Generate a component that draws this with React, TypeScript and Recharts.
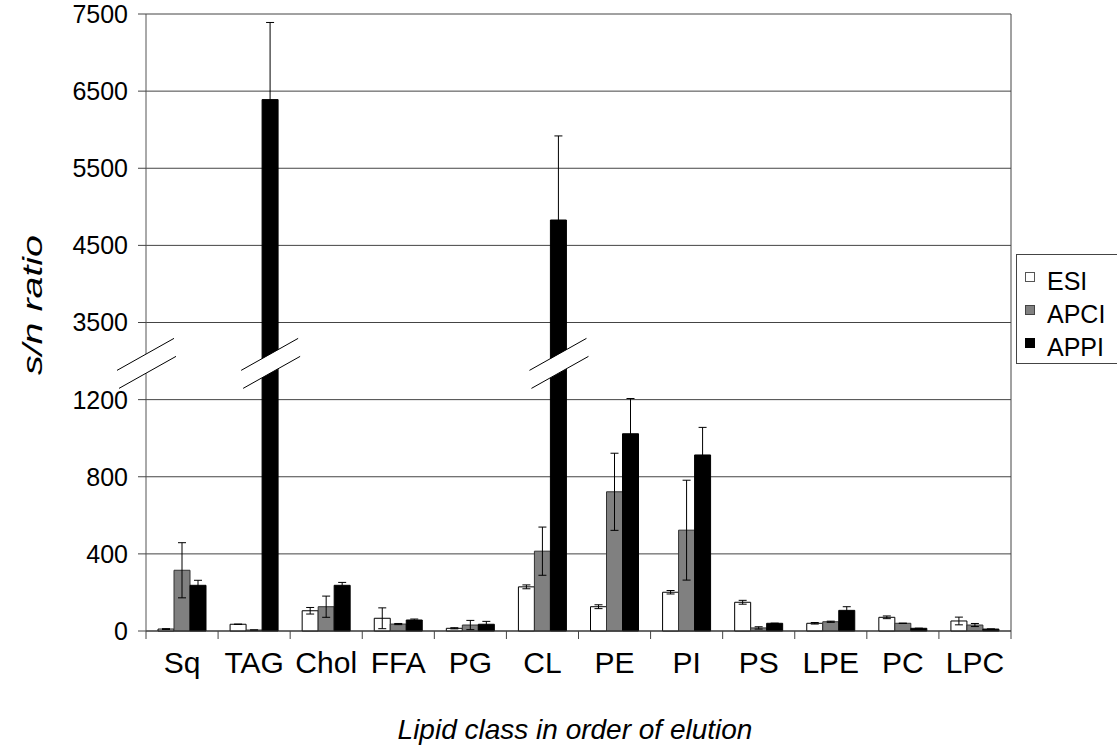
import React from 'react';
import { BarChart, Bar, XAxis, YAxis, CartesianGrid, ErrorBar, ReferenceDot, Label } from 'recharts';

// lipid classes, in order of elution
const categories = ['Sq', 'TAG', 'Chol', 'FFA', 'PG', 'CL', 'PE', 'PI', 'PS', 'LPE', 'PC', 'LPC'];

// s/n ratio per ionisation source, with error (one s.d.)
const esi = [10, 35, 105, 66, 14, 229, 126, 201, 149, 40, 71, 52];
const esiErr = [2, 0, 17, 54, 3, 10, 10, 9, 10, 4, 7, 20];
const apci = [315, 5, 126, 36, 31, 414, 722, 523, 16, 48, 40, 31];
const apciErr = [143, 0, 55, 3, 24, 125, 200, 259, 6, 3, 0, 8];
const appi = [237, 6390, 237, 57, 35, 4829, 1023, 913, 40, 107, 14, 10];
const appiErr = [26, 1000, 15, 5, 15, 1090, 210, 143, 0, 19, 0, 0];

const yTickValues = [0, 400, 800, 1200, 3500, 4500, 5500, 6500, 7500];
const brokenBars = ['TAG', 'CL'];

const FONT = '"Liberation Sans", Arial, sans-serif';
const W = 1117;
const H = 751;
const MARGIN = { top: 14, right: 106, bottom: 60, left: 66 };
const Y_AXIS_W = 80;
const PLOT_LEFT = MARGIN.left + Y_AXIS_W;
const PLOT_RIGHT = W - MARGIN.right;
const PLOT_BOTTOM = 631;
const BAND = (PLOT_RIGHT - PLOT_LEFT) / categories.length;
const BAR = 16;

// broken axis: 0-1200 at 400 per unit, break, 3500-7500 at 1000 per unit
function toAxis(v: number): number {
  if (v <= 1200) return v / 400;
  if (v < 3500) return 3 + (v - 1200) / 2300;
  return 4 + (v - 3500) / 1000;
}

function errRange(v: number, e: number): [number, number] {
  return [toAxis(v) - toAxis(Math.max(v - e, 0)), toAxis(v + e) - toAxis(v)];
}

const rows = categories.map((name, i) => ({
  name,
  esi: toAxis(esi[i]),
  apci: toAxis(apci[i]),
  appi: toAxis(appi[i]),
  esiE: errRange(esi[i], esiErr[i]),
  apciE: errRange(apci[i], apciErr[i]),
  appiE: errRange(appi[i], appiErr[i]),
}));

const BREAK_AT = 3.47;

function BreakMark({ cx, cy }: { cx: number; cy: number }) {
  const a = { x1: cx - 29, y1: cy + 7, x2: cx + 28, y2: cy - 25 };
  const b = { x1: cx - 27, y1: cy + 25, x2: cx + 30, y2: cy - 7 };
  return (
    <g>
      <polygon
        points={`${a.x1},${a.y1} ${a.x2},${a.y2} ${b.x2},${b.y2} ${b.x1},${b.y1}`}
        fill="#fff"
        stroke="none"
      />
      <line {...a} stroke="#000" strokeWidth={1} />
      <line {...b} stroke="#000" strokeWidth={1} />
    </g>
  );
}

function XTick(props: any) {
  const { x, payload, index } = props;
  return (
    <g>
      <line x1={x - BAND / 2} x2={x - BAND / 2} y1={PLOT_BOTTOM} y2={PLOT_BOTTOM + 8} stroke="#444" />
      {index === categories.length - 1 && (
        <line x1={x + BAND / 2} x2={x + BAND / 2} y1={PLOT_BOTTOM} y2={PLOT_BOTTOM + 8} stroke="#444" />
      )}
      <text x={x} y={673} textAnchor="middle" fontSize={30} fontFamily={FONT} fill="#000">
        {payload.value}
      </text>
    </g>
  );
}

const legendItems = [
  { name: 'ESI', fill: '#fff', stroke: '#555' },
  { name: 'APCI', fill: '#808080', stroke: '#444' },
  { name: 'APPI', fill: '#000', stroke: '#000' },
];

export default function App() {
  return (
    <div style={{ position: 'absolute', left: 0, top: 0, width: W, height: H, overflow: 'hidden', background: '#fff' }}>
      <BarChart width={W} height={H} data={rows} margin={MARGIN} barSize={BAR} barGap={0}>
        <CartesianGrid stroke="#444" vertical={true} verticalPoints={[PLOT_RIGHT]} />
        <XAxis
          dataKey="name"
          interval={0}
          tickLine={false}
          axisLine={{ stroke: '#333' }}
          height={60}
          tick={<XTick />}
        >
          <Label
            content={() => (
              <text x={575} y={739} textAnchor="middle" fontSize={28} fontStyle="italic" fontFamily={FONT} fill="#000">
                Lipid class in order of elution
              </text>
            )}
          />
        </XAxis>
        <YAxis
          width={Y_AXIS_W}
          domain={[0, 8]}
          ticks={yTickValues.map(toAxis)}
          interval={0}
          tickFormatter={(_v: number, i: number) => String(yTickValues[i])}
          tick={{ fontSize: 25, fill: '#000', fontFamily: FONT }}
          tickSize={8}
          tickMargin={10}
          tickLine={{ stroke: '#444' }}
          axisLine={{ stroke: '#555' }}
        >
          <Label
            content={() => (
              <text
                x={42}
                y={305}
                transform="rotate(-90, 42, 305)"
                textAnchor="middle"
                fontSize={28}
                fontStyle="italic"
                fontFamily={FONT}
                textLength={140}
                lengthAdjust="spacingAndGlyphs"
                fill="#000"
              >
                s/n ratio
              </text>
            )}
          />
        </YAxis>
        <Bar dataKey="esi" fill="#fff" stroke="#000" strokeWidth={1} isAnimationActive={false}>
          <ErrorBar dataKey="esiE" width={4} stroke="#000" strokeWidth={1} />
        </Bar>
        <Bar dataKey="apci" fill="#808080" stroke="#333" strokeWidth={1} isAnimationActive={false}>
          <ErrorBar dataKey="apciE" width={4} stroke="#000" strokeWidth={1} />
        </Bar>
        <Bar dataKey="appi" fill="#000" stroke="#000" strokeWidth={1} isAnimationActive={false}>
          <ErrorBar dataKey="appiE" width={4} stroke="#000" strokeWidth={1} />
        </Bar>
        <ReferenceDot
          x={categories[0]}
          y={BREAK_AT}
          r={0}
          ifOverflow="visible"
          shape={(p: any) => <BreakMark cx={p.cx - BAND / 2} cy={p.cy} />}
        />
        {brokenBars.map((c) => (
          <ReferenceDot
            key={c}
            x={c}
            y={BREAK_AT}
            r={0}
            ifOverflow="visible"
            shape={(p: any) => <BreakMark cx={p.cx + BAR} cy={p.cy} />}
          />
        ))}
      </BarChart>
      <div
        style={{
          position: 'absolute',
          left: 1016,
          top: 254,
          width: 130,
          height: 108,
          border: '1px solid #444',
          background: '#fff',
          fontFamily: FONT,
          fontSize: 25,
          color: '#000',
        }}
      >
        {legendItems.map((it, i) => (
          <div key={it.name} style={{ position: 'absolute', left: 8, top: 12 + i * 33, height: 28, display: 'flex', alignItems: 'center' }}>
            <span
              style={{
                display: 'inline-block',
                width: 8,
                height: 8,
                background: it.fill,
                border: `1px solid ${it.stroke}`,
                marginRight: 12,
                marginTop: -8,
              }}
            />
            <span style={{ lineHeight: '28px' }}>{it.name}</span>
          </div>
        ))}
      </div>
    </div>
  );
}
